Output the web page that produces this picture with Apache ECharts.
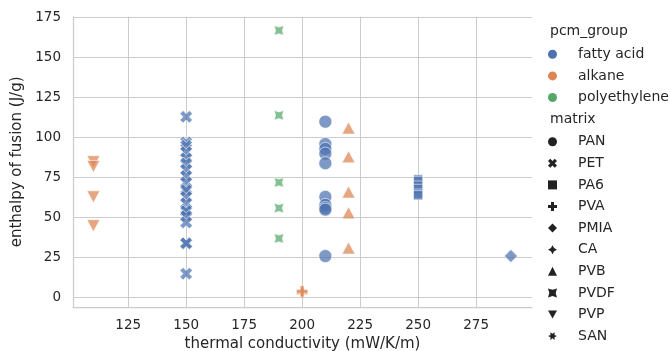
<!DOCTYPE html>
<html style="height: 100%">
  <head>
    <meta charset="utf-8" />
  </head>
  <body style="height: 100%; margin: 0">
    <div id="container" style="width: 670px; height: 351px"></div>

    <script
      type="text/javascript"
      src="https://cdn.jsdelivr.net/npm/echarts@6/dist/echarts.min.js"
    ></script>

    <script type="text/javascript">
      // x: thermal conductivity (mW/K/m), y: enthalpy of fusion (J/g)
      var xTicks = [125, 150, 175, 200, 225, 250, 275];
      var yTicks = [0, 25, 50, 75, 100, 125, 150, 175];

      var groups = ["fatty acid", "alkane", "polyethylene"];
      var matrices = ["PAN", "PET", "PA6", "PVA", "PMIA", "CA", "PVB", "PVDF", "PVP", "SAN"];

      // fatty acid
      var fattyPAN_x = 210;
      var fattyPAN_y = [110, 96, 93, 90, 84, 63, 58, 56, 55, 26];
      var fattyPET_x = 150;
      var fattyPET_y = [113, 97, 95, 91, 87, 84, 80, 76, 72, 68, 67, 63, 59, 55, 54, 51, 47, 34, 34, 15];
      var fattyPA6_x = 250;
      var fattyPA6_y = [74, 73, 70, 68, 65, 64];
      var fattyPMIA_x = 290;
      var fattyPMIA_y = [26];

      // alkane
      var alkanePVA_x = 200;
      var alkanePVA_y = [3, 4];
      var alkanePVB_x = 220;
      var alkanePVB_y = [106, 88, 66, 53, 31];
      var alkanePVP_x = 110;
      var alkanePVP_y = [85, 82, 63, 45];

      // polyethylene
      var polyPVDF_x = 190;
      var polyPVDF_y = [167, 114, 72, 56, 37];

      var sets = [
        { group: "fatty acid", matrix: "PAN", x: fattyPAN_x, y: fattyPAN_y },
        { group: "fatty acid", matrix: "PET", x: fattyPET_x, y: fattyPET_y },
        { group: "fatty acid", matrix: "PA6", x: fattyPA6_x, y: fattyPA6_y },
        { group: "fatty acid", matrix: "PMIA", x: fattyPMIA_x, y: fattyPMIA_y },
        { group: "alkane", matrix: "PVA", x: alkanePVA_x, y: alkanePVA_y },
        { group: "alkane", matrix: "PVB", x: alkanePVB_x, y: alkanePVB_y },
        { group: "alkane", matrix: "PVP", x: alkanePVP_x, y: alkanePVP_y },
        { group: "polyethylene", matrix: "PVDF", x: polyPVDF_x, y: polyPVDF_y },
      ];

      var groupColor = {
        "fatty acid": "#4c72b0",
        alkane: "#dd8452",
        polyethylene: "#55a868",
      };

      // seaborn-like marker shapes
      var marker = {
        PAN: "circle",
        PET: "path://M5,20L10,15L15,20L20,15L15,10L20,5L15,0L10,5L5,0L0,5L5,10L0,15Z",
        PA6: "rect",
        PVA: "path://M2,0H4V2H6V4H4V6H2V4H0V2H2Z",
        PMIA: "diamond",
        CA: "path://M10,0L13.54,6.46L20,10L13.54,13.54L10,20L6.46,13.54L0,10L6.46,6.46Z",
        PVB: "triangle",
        PVDF: "path://M0,0L10,2.93L20,0L17.07,10L20,20L10,17.07L0,20L2.93,10Z",
        PVP: "path://M0,0L20,0L10,18Z",
        SAN: "path://M10,5L15,1.34L14.33,7.5L20,10L14.33,12.5L15,18.66L10,15L5,18.66L5.67,12.5L0,10L5.67,7.5L5,1.34Z",
      };
      var markerSize = {
        PAN: 13,
        PET: 12.5,
        PA6: 9.2,
        PVA: 11.5,
        PMIA: 13,
        CA: 12,
        PVB: [13, 12],
        PVDF: 9.5,
        PVP: [13, 12],
        SAN: 12,
      };

      var font = "DejaVu Sans";
      var textColor = "#262626";
      var gridColor = "#cccccc";

      var dom = document.getElementById("container");
      var myChart = echarts.init(dom, null, { renderer: "canvas" });

      var series = [];
      sets.forEach(function (s) {
        series.push({
          type: "scatter",
          name: s.group + " / " + s.matrix,
          data: s.y.map(function (v) {
            return [s.x, v];
          }),
          symbol: marker[s.matrix],
          symbolSize: markerSize[s.matrix],
          itemStyle: {
            color: groupColor[s.group],
            opacity: 0.72,
            borderColor: "#ffffff",
            borderWidth: 0.8,
          },
        });
      });
      // empty series so the legends have entries
      groups.concat(matrices).forEach(function (n) {
        series.push({ type: "scatter", name: n, data: [] });
      });

      var legendText = {
        fontSize: 14,
        color: textColor,
        fontFamily: font,
        lineHeight: 15,
        padding: [0, 0, 0, 16],
      };

      var option = {
        animation: false,
        textStyle: { fontFamily: font },
        grid: {
          left: 73,
          right: 138,
          top: 16.7,
          bottom: 43.9,
          containLabel: false,
          outerBoundsMode: "none",
        },
        xAxis: {
          type: "value",
          min: 101.2,
          max: 299.1,
          name: "thermal conductivity (mW/K/m)",
          nameLocation: "middle",
          nameGap: 28,
          nameTextStyle: { fontSize: 15, color: textColor, fontFamily: font },
          axisLine: { show: true, onZero: false, lineStyle: { color: gridColor, width: 1.25 } },
          axisTick: { show: false, customValues: xTicks },
          axisLabel: { customValues: xTicks, fontSize: 13.5, color: textColor, margin: 11, fontFamily: font },
          splitLine: { show: true, lineStyle: { color: gridColor, width: 1 } },
        },
        yAxis: {
          type: "value",
          min: -5.9,
          max: 175.6,
          name: "enthalpy of fusion (J/g)",
          nameLocation: "middle",
          nameGap: 47,
          nameTextStyle: { fontSize: 15, color: textColor, fontFamily: font },
          axisLine: { show: true, onZero: false, lineStyle: { color: gridColor, width: 1.25 } },
          axisTick: { show: false, customValues: yTicks },
          axisLabel: { customValues: yTicks, fontSize: 13.5, color: textColor, margin: 12, fontFamily: font },
          splitLine: { show: true, lineStyle: { color: gridColor, width: 1 } },
        },
        legend: [
          {
            data: groups.map(function (g) {
              return { name: g, icon: "circle", itemStyle: { color: groupColor[g], opacity: 1, borderWidth: 0 } };
            }),
            orient: "vertical",
            left: 548,
            top: 46.8,
            itemWidth: 9,
            itemHeight: 9,
            itemGap: 6.6,
            padding: 0,
            selectedMode: false,
            textStyle: legendText,
          },
          {
            data: matrices.map(function (m) {
              return { name: m, icon: marker[m], itemStyle: { color: "#222222", opacity: 1, borderWidth: 0 } };
            }),
            orient: "vertical",
            left: 548,
            top: 134.2,
            itemWidth: 9,
            itemHeight: 9,
            itemGap: 6.6,
            padding: 0,
            selectedMode: false,
            textStyle: legendText,
          },
        ],
        graphic: [
          {
            type: "text",
            x: 550,
            y: 31.7,
            style: { text: "pcm_group", fontSize: 14, fontFamily: font, fill: textColor, verticalAlign: "middle" },
          },
          {
            type: "text",
            x: 550,
            y: 119,
            style: { text: "matrix", fontSize: 14, fontFamily: font, fill: textColor, verticalAlign: "middle" },
          },
        ],
        series: series,
      };

      if (option && typeof option === "object") {
        myChart.setOption(option);
      }
    </script>
  </body>
</html>
